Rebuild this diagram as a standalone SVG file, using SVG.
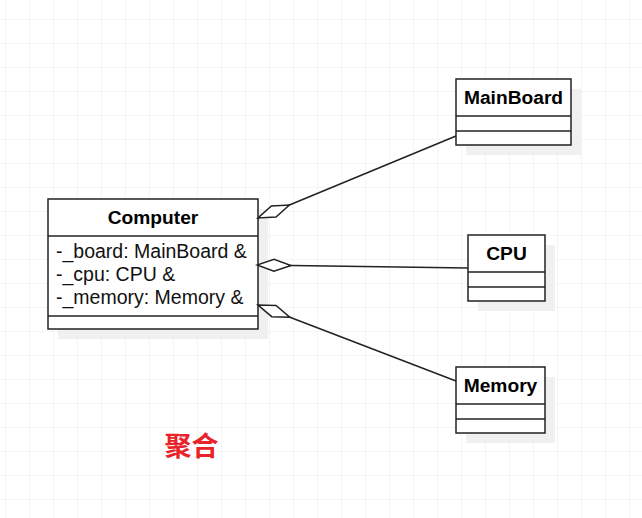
<svg xmlns="http://www.w3.org/2000/svg" width="642" height="518" viewBox="0 0 642 518">
<style>
.grid{stroke:#ececec;stroke-width:1;fill:none}
.shadow{fill:#f0f0f0;stroke:none}
.box{fill:#ffffff;stroke:#222222;stroke-width:1.5}
.sep{stroke:#222222;stroke-width:1.5;fill:none}
.title{font-family:"Liberation Sans",Arial,sans-serif;font-size:19.2px;font-weight:bold;fill:#000;text-anchor:middle}
.attr{font-family:"Liberation Sans",Arial,sans-serif;font-size:19.5px;fill:#111}
.conn{stroke:#222222;stroke-width:1.5;fill:none}
.label{font-family:"Liberation Sans","Noto Sans CJK SC",sans-serif;font-size:27px;font-weight:bold;fill:#e8232a;text-anchor:middle}
</style>
<defs>
<pattern id="gridpat" x="5" y="19" width="24" height="24" patternUnits="userSpaceOnUse">
<path d="M0,0 H24 M0,0 V24" class="grid"/>
</pattern>
<marker id="diamond" markerUnits="userSpaceOnUse" viewBox="-2 -2 38 16" markerWidth="38" markerHeight="16" refX="34" refY="6" orient="auto">
<path d="M0,6 L17,0 L34,6 L17,12 Z" fill="#ffffff" stroke="#222222" stroke-width="1.5" stroke-linejoin="miter"/>
</marker>
</defs>
<rect width="642" height="518" fill="#ffffff"/>
<rect width="642" height="518" fill="url(#gridpat)"/>

<g id="computer">
<rect class="shadow" x="58" y="209" width="210" height="130"/>
<rect class="box" x="48" y="199" width="210" height="130"/>
<line class="sep" x1="48" y1="236" x2="258" y2="236"/>
<line class="sep" x1="48" y1="316" x2="258" y2="316"/>
<text class="title" x="153" y="224">Computer</text>
<text class="attr" x="56" y="258">-_board: MainBoard &amp;</text>
<text class="attr" x="56" y="281">-_cpu: CPU &amp;</text>
<text class="attr" x="56" y="304">-_memory: Memory &amp;</text>
</g>

<g id="mainboard">
<rect class="shadow" x="466" y="89" width="115" height="66"/>
<rect class="box" x="456" y="79" width="115" height="66"/>
<line class="sep" x1="456" y1="116" x2="571" y2="116"/>
<line class="sep" x1="456" y1="131" x2="571" y2="131"/>
<text class="title" x="513.5" y="104">MainBoard</text>
</g>

<g id="cpu">
<rect class="shadow" x="478" y="245" width="77" height="66"/>
<rect class="box" x="468" y="235" width="77" height="66"/>
<line class="sep" x1="468" y1="272" x2="545" y2="272"/>
<line class="sep" x1="468" y1="287" x2="545" y2="287"/>
<text class="title" x="506.5" y="260">CPU</text>
</g>

<g id="memory">
<rect class="shadow" x="466" y="377" width="89" height="66"/>
<rect class="box" x="456" y="367" width="89" height="66"/>
<line class="sep" x1="456" y1="404" x2="545" y2="404"/>
<line class="sep" x1="456" y1="419" x2="545" y2="419"/>
<text class="title" x="500.5" y="392">Memory</text>
</g>

<g id="connectors">
<path class="conn" d="M456,136 L258,218" marker-end="url(#diamond)"/>
<path class="conn" d="M468,268 L257,265" marker-end="url(#diamond)"/>
<path class="conn" d="M456,381 L258,305" marker-end="url(#diamond)"/>
</g>

<g id="caption">
<text class="label" x="191.5" y="456">聚合</text>
</g>
</svg>
